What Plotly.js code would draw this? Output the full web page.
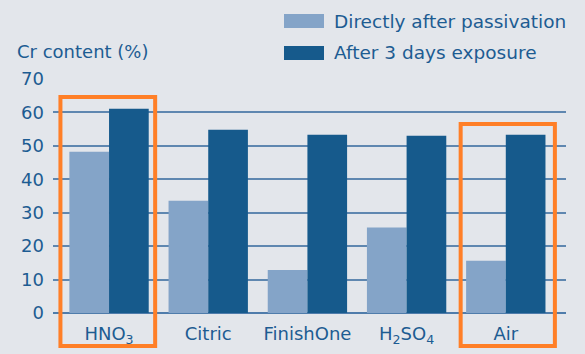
<!DOCTYPE html>
<html>
<head>
<meta charset="utf-8">
<script src="https://cdn.plot.ly/plotly-3.0.1.min.js"></script>
<style>html,body{margin:0;padding:0;background:#e3e6eb;}#chart{width:585px;height:354px;}</style>
</head>
<body>
<div id="chart"></div>
<script>
const categories = ["HNO<sub>3</sub>", "Citric", "FinishOne", "H<sub>2</sub>SO<sub>4</sub>", "Air"];
const directlyAfter = [48.2, 33.6, 12.9, 25.6, 15.6];
const after3Days = [61.1, 54.8, 53.3, 53.0, 53.3];
const seriesNames = ["Directly after passivation", "After 3 days exposure"];
const yTicks = [0, 10, 20, 30, 40, 50, 60, 70];
const highlighted = [0, 4];

const lightBlue = "#84a4c8";
const darkBlue = "#165a8c";
const textBlue = "#1d5c92";
const orange = "#ff7f27";
const font = "DejaVu Sans, sans-serif";

// plot area in pixels
const W = 585, H = 354, L = 53, R = 566, T = 79, B = 313;
const px = x => (x - L) / (R - L);
const py = y => (B - y) / (B - T);

const xIdx = categories.map((_, i) => i);

const traces = [
  {type: "bar", x: xIdx, y: directlyAfter, name: seriesNames[0], marker: {color: lightBlue}, showlegend: false, hoverinfo: "skip"},
  {type: "bar", x: xIdx, y: after3Days, name: seriesNames[1], marker: {color: darkBlue}, showlegend: false, hoverinfo: "skip"}
];

const shapes = [];
const annotations = [];
// manual legend
const legendRows = [{y0: 14, y1: 28, c: lightBlue}, {y0: 46, y1: 60, c: darkBlue}];
legendRows.forEach((r, i) => {
  shapes.push({type: "rect", xref: "paper", yref: "paper", x0: px(284), x1: px(324), y0: py(r.y1), y1: py(r.y0), fillcolor: r.c, line: {width: 0}});
  annotations.push({xref: "paper", yref: "paper", x: px(332), y: py((r.y0 + r.y1) / 2), xanchor: "left", yanchor: "middle", text: seriesNames[i], showarrow: false, font: {family: font, size: 18.5, color: textBlue}});
});
// y axis title
annotations.push({xref: "paper", yref: "paper", x: px(15), y: py(52), xanchor: "left", yanchor: "middle", text: "Cr content (%)", showarrow: false, font: {family: font, size: 18, color: textBlue}});
// highlight boxes
const boxes = [{i: highlighted[0], a: -0.49, b: 0.465, top: 97}, {i: highlighted[1], a: -0.455, b: 0.495, top: 124}];
boxes.forEach(bx => {
  shapes.push({type: "rect", xref: "x", yref: "paper", x0: bx.i + bx.a, x1: bx.i + bx.b, y0: py(346), y1: py(bx.top), line: {color: orange, width: 4}, fillcolor: "rgba(0,0,0,0)", layer: "above"});
});

const layout = {
  width: W, height: H,
  margin: {l: L, r: W - R, t: T, b: H - B, pad: 0},
  paper_bgcolor: "#e3e6eb", plot_bgcolor: "#e3e6eb",
  barmode: "group", bargap: 0.2, bargroupgap: 0,
  xaxis: {
    range: [-0.565, 4.607], tickmode: "array", tickvals: xIdx, ticktext: categories,
    showgrid: false, zeroline: false, showline: false, ticks: "", ticklabelstandoff: 8,
    tickfont: {family: font, size: 18, color: textBlue}, fixedrange: true
  },
  yaxis: {
    range: [0, 70], tickmode: "array", tickvals: yTicks, ticktext: yTicks.map(String),
    showgrid: true, gridcolor: "#5f87b0", gridwidth: 2,
    zeroline: true, zerolinecolor: "#4f7cab", zerolinewidth: 2,
    showline: false, ticks: "", ticklabelstandoff: 8,
    tickfont: {family: font, size: 18, color: textBlue}, fixedrange: true
  },
  shapes: shapes,
  annotations: annotations,
  showlegend: false
};

Plotly.newPlot("chart", traces, layout, {displayModeBar: false, staticPlot: true});
</script>
</body>
</html>
